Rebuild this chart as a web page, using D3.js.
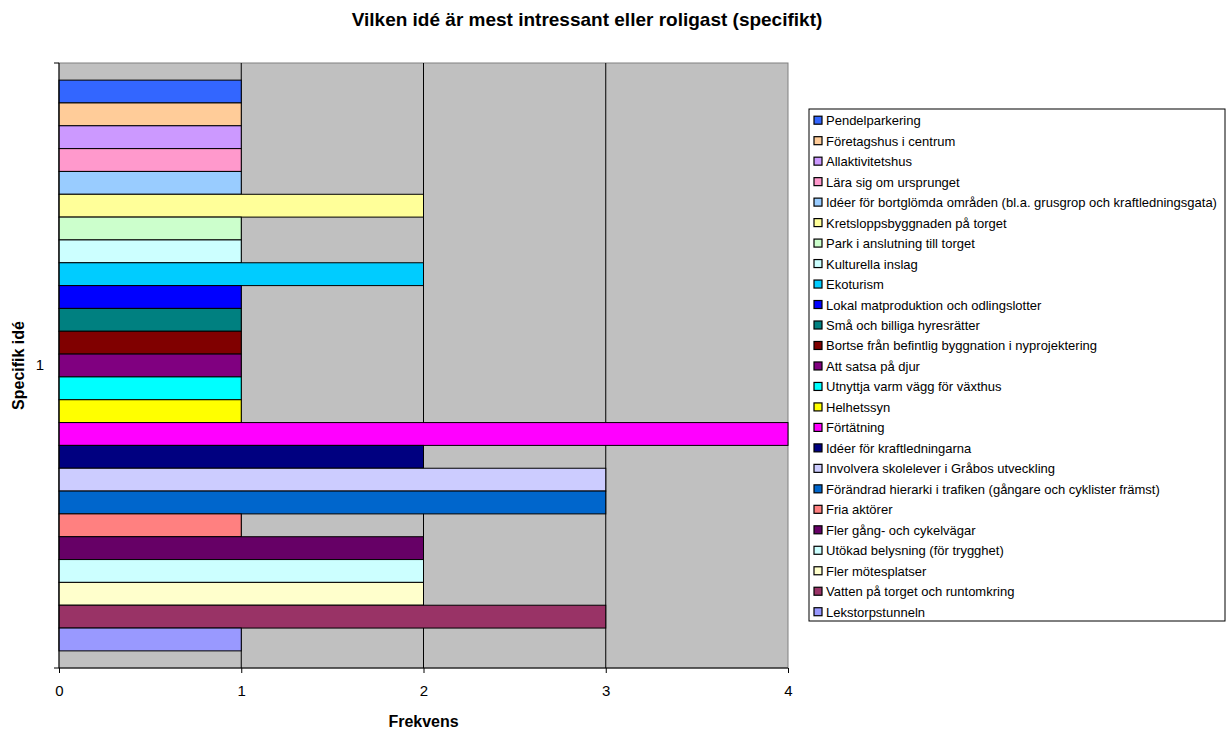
<!DOCTYPE html>
<html>
<head>
<meta charset="utf-8">
<script src="https://cdn.jsdelivr.net/npm/d3@7"></script>
<style>
  body { margin: 0; background: #fff; }
  text { font-family: "Liberation Sans", Arial, sans-serif; fill: #000; }
  .axis path, .axis line { stroke: #000; }
</style>
</head>
<body>
<div id="chart"></div>
<script>
// series names, top to bottom like the legend
var ideas = [
    "Pendelparkering",
    "Företagshus i centrum",
    "Allaktivitetshus",
    "Lära sig om ursprunget",
    "Idéer för bortglömda områden (bl.a. grusgrop och kraftledningsgata)",
    "Kretsloppsbyggnaden på torget",
    "Park i anslutning till torget",
    "Kulturella inslag",
    "Ekoturism",
    "Lokal matproduktion och odlingslotter",
    "Små och billiga hyresrätter",
    "Bortse från befintlig byggnation i nyprojektering",
    "Att satsa på djur",
    "Utnyttja varm vägg för växthus",
    "Helhetssyn",
    "Förtätning",
    "Idéer för kraftledningarna",
    "Involvera skolelever i Gråbos utveckling",
    "Förändrad hierarki i trafiken (gångare och cyklister främst)",
    "Fria aktörer",
    "Fler gång- och cykelvägar",
    "Utökad belysning (för trygghet)",
    "Fler mötesplatser",
    "Vatten på torget och runtomkring",
    "Lekstorpstunneln"
];

var counts = [1, 1, 1, 1, 1, 2, 1, 1, 2, 1, 1, 1, 1, 1, 1, 4, 2, 3, 3, 1, 2, 2, 2, 3, 1];

var colors = [
    "#3366FF", "#FFCC99", "#CC99FF", "#FF99CC", "#99CCFF",
    "#FFFF99", "#CCFFCC", "#CCFFFF", "#00CCFF", "#0000FF",
    "#008080", "#800000", "#800080", "#00FFFF", "#FFFF00",
    "#FF00FF", "#000080", "#CCCCFF", "#0066CC", "#FF8080",
    "#660066", "#CCFFFF", "#FFFFCC", "#993366", "#9999FF"
];

var categories = ["1"];
var xTicks = [0, 1, 2, 3, 4];

var svgWidth = 1231;
var svgHeight = 731;

var margin = { top: 63, right: 443, bottom: 63, left: 59 };
var width = svgWidth - margin.left - margin.right;   // 729
var height = svgHeight - margin.top - margin.bottom; // 605

var svg = d3.select("#chart")
    .append("svg")
    .attr("width", svgWidth)
    .attr("height", svgHeight);

var data = ideas.map(function(name, i) {
    return { name: name, value: counts[i], color: colors[i] };
});

// title
svg.append("text")
    .attr("x", 587)
    .attr("y", 26)
    .attr("text-anchor", "middle")
    .attr("font-size", "19px")
    .attr("font-weight", "bold")
    .text("Vilken idé är mest intressant eller roligast (specifikt)");

var chartGroup = svg.append("g")
    .attr("transform", `translate(${margin.left}, ${margin.top})`);

var xScale = d3.scaleLinear()
    .domain([0, 4])
    .range([0, width]);

var catScale = d3.scaleBand()
    .domain(categories)
    .range([0, height]);

// Excel-style: gap width 150% split on both sides
var yScale = d3.scaleBand()
    .domain(ideas)
    .range([0, height])
    .paddingInner(0)
    .paddingOuter(0.75);

// plot background
chartGroup.append("rect")
    .attr("width", width)
    .attr("height", height)
    .attr("fill", "#C0C0C0")
    .attr("stroke", "#808080")
    .attr("stroke-width", 1);

// vertical gridlines
chartGroup.selectAll(".grid")
    .data(xTicks.filter(d => d > 0 && d < 4))
    .enter()
    .append("line")
    .attr("class", "grid")
    .attr("x1", d => xScale(d))
    .attr("x2", d => xScale(d))
    .attr("y1", 0)
    .attr("y2", height)
    .attr("stroke", "#000")
    .attr("stroke-width", 1);

// bars
chartGroup.selectAll(".bar")
    .data(data)
    .enter()
    .append("rect")
    .attr("class", "bar")
    .attr("x", 0)
    .attr("y", d => yScale(d.name))
    .attr("width", d => xScale(d.value))
    .attr("height", yScale.bandwidth())
    .attr("fill", d => d.color)
    .attr("stroke", "#000")
    .attr("stroke-width", 1);

// x axis
var bottomAxis = d3.axisBottom(xScale)
    .tickValues(xTicks)
    .tickSize(5)
    .tickPadding(12)
    .tickFormat(d3.format("d"));

var xAxis = chartGroup.append("g")
    .attr("class", "axis")
    .attr("transform", `translate(0, ${height})`)
    .call(bottomAxis);
xAxis.select(".domain").attr("d", `M0,0H${width}`);
xAxis.selectAll("text").style("font-size", "15px");

// y axis: label at center, ticks on the category edges
var leftAxis = d3.axisLeft(catScale)
    .tickSize(0)
    .tickPadding(15);

var yAxis = chartGroup.append("g")
    .attr("class", "axis")
    .call(leftAxis);
yAxis.select(".domain").attr("d", `M0,0V${height}`);
yAxis.selectAll("text").style("font-size", "15px");

yAxis.selectAll(".edge")
    .data([0, height])
    .enter()
    .append("line")
    .attr("class", "edge")
    .attr("x1", -5)
    .attr("x2", 0)
    .attr("y1", d => d)
    .attr("y2", d => d)
    .attr("stroke", "#000");

// axis titles
chartGroup.append("text")
    .attr("transform", `translate(${xScale(2)}, ${height + 59})`)
    .attr("text-anchor", "middle")
    .attr("font-size", "16px")
    .attr("font-weight", "bold")
    .text("Frekvens");

chartGroup.append("text")
    .attr("transform", `translate(${-35}, ${height / 2}) rotate(-90)`)
    .attr("text-anchor", "middle")
    .attr("font-size", "16px")
    .attr("font-weight", "bold")
    .text("Specifik idé");

// legend
var legend = svg.append("g")
    .attr("transform", "translate(809, 109)");

legend.append("rect")
    .attr("width", 416)
    .attr("height", 512)
    .attr("fill", "#fff")
    .attr("stroke", "#000")
    .attr("stroke-width", 1);

var legendRow = legend.selectAll(".item")
    .data(data)
    .enter()
    .append("g")
    .attr("class", "item")
    .attr("transform", (d, i) => `translate(0, ${11.7 + i * 20.48})`);

legendRow.append("rect")
    .attr("x", 5)
    .attr("y", -4.5)
    .attr("width", 8)
    .attr("height", 8)
    .attr("fill", d => d.color)
    .attr("stroke", "#000")
    .attr("stroke-width", 1.2);

legendRow.append("text")
    .attr("x", 17)
    .attr("y", 4.5)
    .attr("font-size", "13px")
    .text(d => d.name);
</script>
</body>
</html>
